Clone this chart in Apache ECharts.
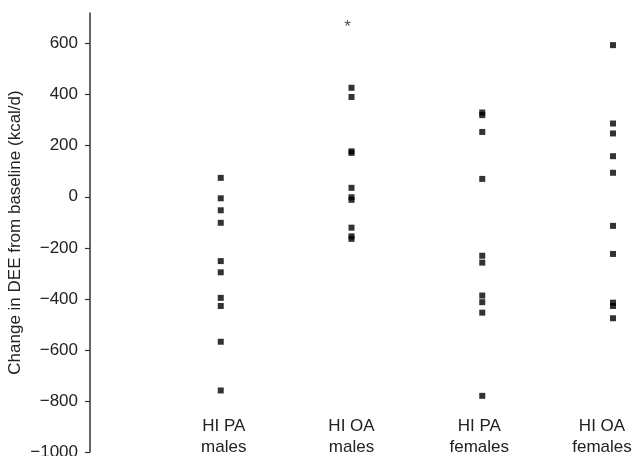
<!DOCTYPE html>
<html>
<head>
<meta charset="utf-8">
<script src="https://cdn.jsdelivr.net/npm/echarts@6/dist/echarts.min.js"></script>
<style>html,body{margin:0;padding:0;background:#fff}#c{width:639px;height:456px}</style>
</head>
<body>
<div id="c"></div>
<script>
const categories = ['', 'HI PA\nmales', 'HI OA\nmales', 'HI PA\nfemales', 'HI OA\nfemales'];
const hiPaMales = [74, -6, -53, -102, -252, -296, -396, -428, -568, -759];
const hiOaMales = [427, 391, 178, 172, 35, -2, -12, -121, -155, -165];
const hiPaFemales = [330, 320, 254, 70, -231, -258, -387, -413, -454, -780];
const hiOaFemales = [594, 287, 248, 159, 94, -114, -224, -415, -428, -476];
const yTicks = [-1000, -800, -600, -400, -200, 0, 200, 400, 600];
const asterisk = { category: 'HI OA\nmales', value: 662, text: '*' };

const groups = [hiPaMales, hiOaMales, hiPaFemales, hiOaFemales];
const pts = [];
groups.forEach((g, i) => g.forEach(v => pts.push([categories[i + 1], v])));

const FONT = 'Liberation Sans, Arial, Helvetica, sans-serif';
const labelShift = { 'HI PA\nmales': 'r1', 'HI OA\nmales': 'c', 'HI PA\nfemales': 'l1', 'HI OA\nfemales': 'l2' };

const chart = echarts.init(document.getElementById('c'), null, { renderer: 'canvas' });
chart.setOption({
  animation: false,
  grid: { left: 90, right: 26, top: 13, bottom: 4, containLabel: false, outerBoundsMode: 'none' },
  xAxis: {
    type: 'category',
    data: categories,
    boundaryGap: false,
    axisLine: { show: false },
    axisTick: { show: false },
    splitLine: { show: false },
    axisLabel: {
      inside: true, margin: -6, interval: 0,
      fontFamily: FONT, fontSize: 17, color: '#222',
      lineHeight: 21, verticalAlign: 'bottom',
      formatter: v => {
        if (!v) return '';
        const k = labelShift[v];
        return v.split('\n').map(s => '{' + k + '|' + s + '}').join('\n');
      },
      rich: {
        c: { fontFamily: FONT, fontSize: 17, color: '#222', lineHeight: 21 },
        r1: { fontFamily: FONT, fontSize: 17, color: '#222', lineHeight: 21, padding: [0, 0, 0, 6] },
        l1: { fontFamily: FONT, fontSize: 17, color: '#222', lineHeight: 21, padding: [0, 6, 0, 0] },
        l2: { fontFamily: FONT, fontSize: 17, color: '#222', lineHeight: 21, padding: [0, 22, 0, 0] }
      }
    }
  },
  yAxis: {
    type: 'value',
    min: -1000, max: 720, interval: 200,
    name: 'Change in DEE from baseline (kcal/d)',
    nameLocation: 'middle', nameGap: 66, nameMoveOverlap: false,
    nameTextStyle: { fontFamily: FONT, fontSize: 17, color: '#222' },
    axisLine: { show: true, lineStyle: { color: '#333', width: 1.5 } },
    axisTick: { show: true, length: 5, customValues: yTicks, lineStyle: { color: '#333', width: 1.2 } },
    splitLine: { show: false },
    axisLabel: {
      customValues: yTicks, margin: 12,
      fontFamily: FONT, fontSize: 17, color: '#222',
      formatter: v => String(v).replace('-', '\u2212')
    }
  },
  series: [
    {
      type: 'scatter', data: pts, symbol: 'rect', symbolSize: 6,
      itemStyle: { color: '#000' }
    },
    {
      type: 'scatter', data: [[asterisk.category, asterisk.value]], symbolSize: 0,
      label: { show: true, position: 'inside', offset: [-4, 0], formatter: asterisk.text, fontSize: 17, color: '#222', fontFamily: FONT }
    }
  ]
});
</script>
</body>
</html>
